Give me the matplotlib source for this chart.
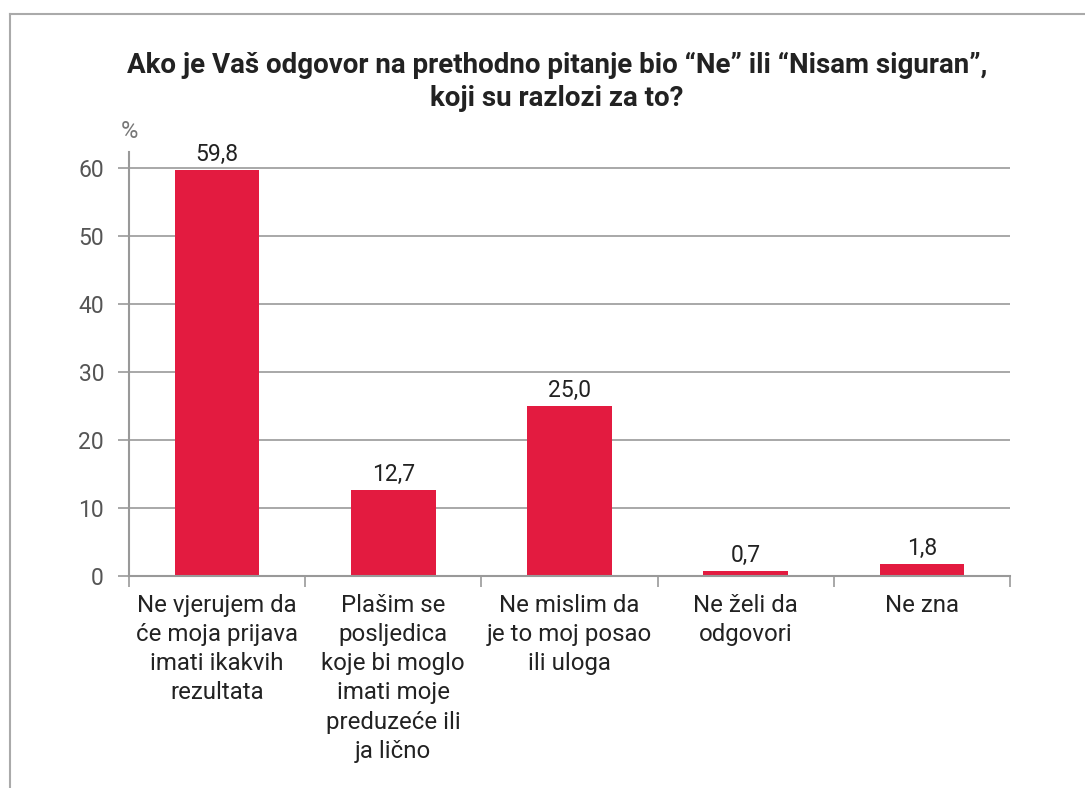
import matplotlib.pyplot as plt
from matplotlib.lines import Line2D
import numpy as np

categories = [
    "Ne vjerujem da\nće moja prijava\nimati ikakvih\nrezultata",
    "Plašim se\nposljedica\nkoje bi moglo\nimati moje\npreduzeće ili\nja lično",
    "Ne mislim da\nje to moj posao\nili uloga",
    "Ne želi da\nodgovori",
    "Ne zna",
]
values = [59.8, 12.7, 25.0, 0.7, 1.8]
value_labels = ["59,8", "12,7", "25,0", "0,7", "1,8"]
y_ticks = [0, 10, 20, 30, 40, 50, 60]

title = "Ako je Vaš odgovor na prethodno pitanje bio “Ne” ili “Nisam siguran”,\nkoji su razlozi za to?"

plt.rcParams['font.family'] = ['Roboto', 'DejaVu Sans']

bar_color = "#E31B40"
grid_color = "#999999"
text_color = "#222222"
tick_color = "#555555"

fig = plt.figure(figsize=(10.85, 7.88), dpi=100)
ax = fig.add_axes([129 / 1085, 1 - 576 / 788, (1010 - 129) / 1085, (576 - 152) / 788])

x = np.arange(len(values))
ax.bar(x, values, width=0.48, color=bar_color, zorder=3)

for xi, v, lab in zip(x, values, value_labels):
    ax.text(xi, v + 0.6, lab, ha="center", va="bottom", fontsize=16.5, color=text_color)

ax.set_xlim(-0.5, len(values) - 0.5)
ax.set_ylim(0, 62.4)

# grid
ax.set_yticks(y_ticks)
ax.yaxis.grid(True, color=grid_color, linewidth=1.2, zorder=0)
ax.tick_params(axis="y", length=8, width=1.2, color=grid_color, labelsize=16.5, labelcolor=tick_color, pad=10)

# categories under the axis, ticks at the boundaries
ax.set_xticks(x)
ax.set_xticklabels(categories, fontsize=17.3, color=text_color, linespacing=1.34, va="top")
ax.tick_params(axis="x", length=0, pad=13)
ax.set_xticks(np.arange(-0.5, len(values)), minor=True)
ax.tick_params(axis="x", which="minor", length=8, width=1.2, color=grid_color, direction="out")

for side in ["top", "right"]:
    ax.spines[side].set_visible(False)
for side in ["left", "bottom"]:
    ax.spines[side].set_color(grid_color)
    ax.spines[side].set_linewidth(1.5)
ax.spines["bottom"].set_zorder(4)

fig.text(121 / 1085, 1 - 132 / 788, "%", fontsize=17, color="#777777", va="center", ha="left")

fig.text(557 / 1085, 1 - 82 / 788, title, fontsize=20, fontweight="bold", color=text_color,
         ha="center", va="center", linespacing=1.28)

# frame around the chart (top and left only)
fig.add_artist(Line2D([10 / 1085, 1], [1 - 14 / 788, 1 - 14 / 788], color="#aaaaaa", linewidth=1.5))
fig.add_artist(Line2D([10 / 1085, 10 / 1085], [0, 1 - 14 / 788], color="#aaaaaa", linewidth=1.5))

fig.savefig("out.png", dpi=100)
